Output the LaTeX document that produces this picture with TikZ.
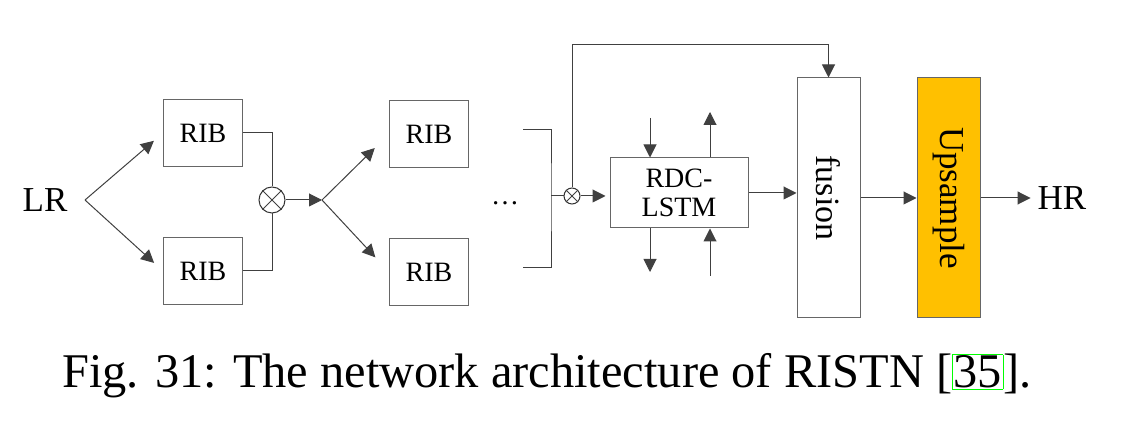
\documentclass[tikz,border=0pt]{standalone}
\usepackage{fontspec}
\setmainfont{Liberation Serif}
\usepackage{xcolor}
\usetikzlibrary{arrows.meta,positioning,calc}
\definecolor{upfill}{RGB}{255,192,0}
\tikzset{
  every picture/.style={line width=0.5pt},
  sline/.style={draw=black!75},
  sarr/.style={sline, -{Triangle[length=6.5pt,width=6.5pt]}},
  sblock/.style={draw=black!60, inner sep=0pt, font=\fontsize{14}{15}\selectfont},
  srib/.style={sblock, minimum width=39.5pt, minimum height=33.5pt},
  stall/.style={sblock, minimum width=31.5pt, minimum height=120pt},
  smul/.style={circle, draw=black!80, inner sep=0pt},
  sio/.style={font=\fontsize{17.5}{18}\selectfont},
}

\begin{document}
\begin{tikzpicture}[x=0.5pt,y=-0.5pt]
  \useasboundingbox (0,0) rectangle (1130,426);
  % first stage
  \node[sio] (lr) at (45,200) {LR};
  \coordinate (splitA) at (85,200);
  \node[srib] (ribA) at (203,133) {RIB};
  \node[srib] (ribB) at (203,271) {RIB};
  \node[smul,minimum size=13pt] (mulA) at (272,200) {};
  \draw[sline] (mulA.45) -- (mulA.225) (mulA.135) -- (mulA.-45);
  \draw[sarr,shorten >=6pt] (splitA) -- (ribA.west);
  \draw[sarr,shorten >=6pt] (splitA) -- (ribB.west);
  \draw[sline] (ribA.east) -| (mulA.north);
  \draw[sline] (ribB.east) -| (mulA.south);
  % second stage
  \coordinate (splitB) at (322,200);
  \node[srib] (ribC) at (429,134) {RIB};
  \node[srib] (ribD) at (429,272) {RIB};
  \draw[sarr] (mulA.east) -- (splitB);
  \draw[sarr,shorten >=10pt] (splitB) -- (ribC.west);
  \draw[sarr,shorten >=10pt] (splitB) -- (ribD.west);
  \node[font=\fontsize{14}{15}\selectfont] (dots) at (505,203) {\dots};
  % gather
  \coordinate (gA) at (523,130);
  \coordinate (gB) at (523,268);
  \coordinate (gM) at (551,196);
  \node[smul,minimum size=8pt] (mulB) at (572,196) {};
  \draw[sline] (mulB.45) -- (mulB.225) (mulB.135) -- (mulB.-45);
  \draw[sline] (gA) -| (gM) |- (gB);
  \draw[sline] (gM) -- (mulB.west);
  % recurrent cell
  \node[sblock, minimum width=69pt, minimum height=35pt, align=center,
        font=\fontsize{14}{14.5}\selectfont] (rdc) at (679,193) {RDC-\\LSTM};
  \draw[sarr,shorten >=2pt] (mulB.east) -- (mulB.east -| rdc.west);
  \coordinate (hIn)  at (650,118);
  \coordinate (hOut) at (710,112);
  \coordinate (cOut) at (650,272);
  \coordinate (cIn)  at (710,276);
  \draw[sarr] (hIn) -- (hIn |- rdc.north);
  \draw[sarr] (hOut |- rdc.north) -- (hOut);
  \draw[sarr] (cOut |- rdc.south) -- (cOut);
  \draw[sarr] (cIn) -- (cIn |- rdc.south);
  % output
  \node[stall] (fus) at (828.5,198) {\rotatebox{-90}{\fontsize{17}{18}\selectfont fusion}};
  \node[stall, fill=upfill] (ups) at (948.5,198) {\rotatebox{-90}{\fontsize{17.5}{18}\selectfont Upsample}};
  \node[sio] (hr) at (1062,198) {HR};
  \coordinate (skip) at (828.5,45);
  \draw[sarr] (mulB.north) |- (skip) -- (fus.north);
  \draw[sarr] (rdc.east) -- (rdc.east -| fus.west);
  \draw[sarr] (fus.east) -- (ups.west);
  \draw[sarr] (ups.east) -- (hr.west);
  % caption
  \node[font=\fontsize{24.2}{26}\selectfont] (cap) at (547,376)
    {Fig. 31: The network architecture of RISTN [{\setlength\fboxsep{0.3pt}\setlength\fboxrule{0.4pt}\fcolorbox{green}{white}{35}}].};
\end{tikzpicture}
\end{document}
